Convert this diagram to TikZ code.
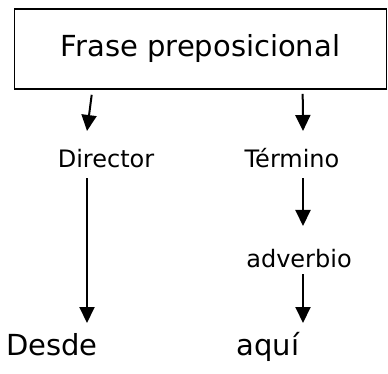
\documentclass[tikz,border=0pt]{standalone}
\usepackage{fontspec}
\setmainfont{DejaVu Sans}
\usetikzlibrary{arrows.meta}

\begin{document}
\begin{tikzpicture}[x=1pt,y=-1pt, >={Triangle[width=15pt,length=16pt]}, line width=2pt,
	caja/.style={draw, line width=1.6pt, minimum width=372pt, minimum height=80pt,
	font=\fontsize{29}{31}\selectfont},
	etiq/.style={inner sep=0pt, anchor=base, font=\fontsize{24}{26}\selectfont},
	palabra/.style={inner sep=0pt, anchor=base, font=\fontsize{29}{31}\selectfont}]

\useasboundingbox (0,0) rectangle (388,374);

\node[caja] (frase) at (200.5,49) {Frase preposicional};

\node[etiq] (dir) at (106,168) {Director};
\node[etiq] (ter) at (292,168) {Término};
\node[etiq] (adv) at (299,267) {adverbio};
\node[palabra] (desde) at (52,355) {Desde};
\node[palabra] (aqui) at (268,355) {aquí};

\coordinate (fd) at (87,131);
\coordinate (ft) at (303,131);
\coordinate (dd) at (87,323);
\coordinate (ta) at (303,226);
\coordinate (aa) at (303,323);

\draw[->] ([xshift=78pt,yshift=-5pt]frase.south west) -- (fd);
\draw[->] ([xshift=289pt,yshift=-4pt]frase.south west) -- (ft);
\draw[->] (dir.south -| dd) ++(0,-9pt) -- (dd);
\draw[->] (ter.south -| ta) ++(0,-9pt) -- (ta);
\draw[->] (adv.south -| aa) ++(0,-6pt) -- (aa);
\end{tikzpicture}
\end{document}
